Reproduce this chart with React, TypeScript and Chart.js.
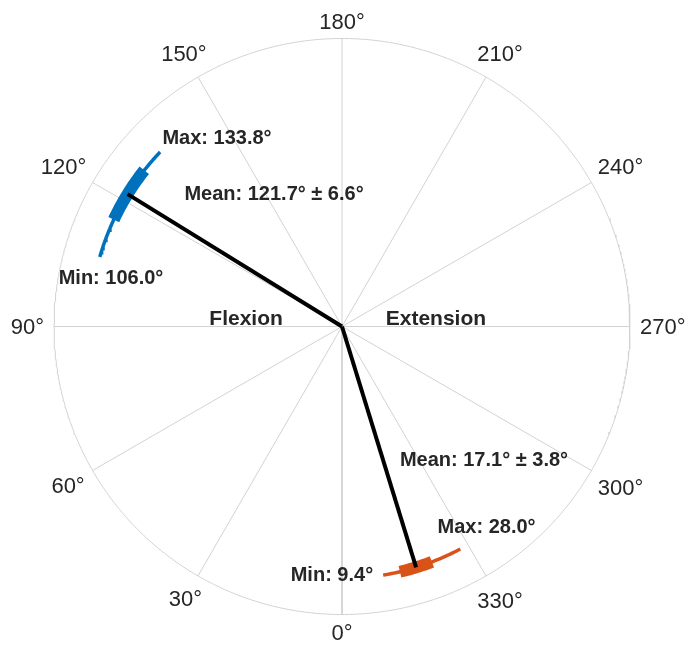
import React, { useEffect, useRef } from 'react';
import { Chart, registerables } from 'chart.js';

Chart.register(...registerables);

// ---- data ----
const categories = ['Flexion', 'Extension'];
const meanDeg = [121.7, 17.1];
const sdDeg = [6.6, 3.8];
const minDeg = [106.0, 9.4];
const maxDeg = [133.8, 28.0];
// flexion is plotted on the left half, extension mirrored onto the right half
const plotSign = [1, -1];
const markerRadius = [0.875, 0.875];
const outerRadius = 1;
const thetaTicks = [0, 30, 60, 90, 120, 150, 180, 210, 240, 270, 300, 330];
const thetaTickLabels = ['0°', '30°', '60°', '90°', '120°', '150°', '180°', '210°', '240°', '270°', '300°', '330°'];

// ---- styles / layout ----
const seriesColors = ['#0072BD', '#D95319'];
const gridColor = '#d2d2d2';
const textColor = '#262626';
const W = 686;
const H = 649;
const CENTER_PX = [342, 326.5];
const PX_PER_UNIT = 288;
const labelPos: Record<string, number[][]> = {
  max: [[-0.434, 0.658], [0.502, -0.691]],
  mean: [[-0.236, 0.464], [0.493, -0.46]],
  min: [[-0.802, 0.174], [-0.035, -0.859]],
  name: [[-0.333, 0.031], [0.326, 0.031]],
};

function toXY(thetaDeg: number, r: number) {
  const t = (thetaDeg * Math.PI) / 180;
  return { x: -r * Math.sin(t), y: -r * Math.cos(t) };
}

function arcPoints(a0: number, a1: number, r: number) {
  const pts: { x: number; y: number }[] = [];
  const lo = Math.min(a0, a1);
  const hi = Math.max(a0, a1);
  const n = Math.max(2, Math.ceil((hi - lo) / 0.5));
  for (let i = 0; i <= n; i++) pts.push(toXY(lo + ((hi - lo) * i) / n, r));
  return pts;
}

const lineDs = (label: string, data: any[], color: string, width: number, extra: any = {}) => ({
  label,
  data,
  showLine: true,
  borderColor: color,
  backgroundColor: color,
  borderWidth: width,
  pointRadius: 0,
  pointHoverRadius: 0,
  fill: false,
  tension: 0,
  clip: false,
  ...extra,
});

export default function App() {
  const ref = useRef<HTMLCanvasElement | null>(null);

  useEffect(() => {
    document.body.style.margin = '0';
    const canvas = ref.current;
    if (!canvas) return;

    const datasets: any[] = [];
    // mean lines (top)
    categories.forEach((c, i) => {
      const th = plotSign[i] * meanDeg[i];
      datasets.push(
        lineDs(c + ' mean', [{ x: 0, y: 0 }, toXY(th, markerRadius[i])], '#000000', 4, {
          borderJoinStyle: 'round',
        })
      );
    });
    // mean ± sd boxes
    categories.forEach((c, i) => {
      const s = plotSign[i];
      datasets.push(
        lineDs(c + ' sd', arcPoints(s * (meanDeg[i] - sdDeg[i]), s * (meanDeg[i] + sdDeg[i]), markerRadius[i]), seriesColors[i], 12)
      );
    });
    // min–max range arcs
    categories.forEach((c, i) => {
      const s = plotSign[i];
      datasets.push(lineDs(c + ' range', arcPoints(s * minDeg[i], s * maxDeg[i], markerRadius[i]), seriesColors[i], 3.5));
    });
    // outer circle
    datasets.push(lineDs('circle', arcPoints(0, 360, outerRadius), gridColor, 1));
    // spokes
    thetaTicks.forEach((t) => {
      datasets.push(lineDs('spoke ' + t, [{ x: 0, y: 0 }, toXY(t, outerRadius)], gridColor, 1));
    });

    const textPlugin = {
      id: 'polarText',
      afterDatasetsDraw(chart: any) {
        const ctx = chart.ctx;
        const xs = chart.scales.x;
        const ys = chart.scales.y;
        const cx = xs.getPixelForValue(0);
        const cy = ys.getPixelForValue(0);
        const rpx = xs.getPixelForValue(outerRadius) - cx;
        ctx.save();
        ctx.fillStyle = textColor;
        ctx.textAlign = 'center';
        ctx.textBaseline = 'alphabetic';
        const fs = 22;
        ctx.font = `${fs}px "Liberation Sans", Arial, sans-serif`;
        const capH = fs * 0.716;
        const gap = 10;
        thetaTicks.forEach((t, k) => {
          const label = thetaTickLabels[k];
          const w = ctx.measureText(label).width;
          const rad = (t * Math.PI) / 180;
          const ux = -Math.sin(rad);
          const uy = Math.cos(rad);
          const d = rpx + gap + Math.abs((w / 2) * ux) + Math.abs((capH / 2) * uy);
          ctx.fillText(label, cx + d * ux, cy + d * uy + capH / 2);
        });

        const put = (txt: string, p: number[], size: number) => {
          ctx.font = `bold ${size}px "Liberation Sans", Arial, sans-serif`;
          ctx.fillText(txt, xs.getPixelForValue(p[0]), ys.getPixelForValue(p[1]) + (size * 0.716) / 2);
        };
        categories.forEach((c, i) => {
          put(`Max: ${maxDeg[i].toFixed(1)}°`, labelPos.max[i], 20);
          put(`Mean: ${meanDeg[i].toFixed(1)}° ± ${sdDeg[i].toFixed(1)}°`, labelPos.mean[i], 20);
          put(`Min: ${minDeg[i].toFixed(1)}°`, labelPos.min[i], 20);
          put(c, labelPos.name[i], 21);
        });
        ctx.restore();
      },
    };

    const chart = new Chart(canvas, {
      type: 'scatter',
      data: { datasets },
      options: {
        responsive: false,
        maintainAspectRatio: false,
        animation: false,
        events: [],
        layout: { padding: 0 },
        plugins: { legend: { display: false }, tooltip: { enabled: false } },
        scales: {
          x: {
            type: 'linear',
            display: false,
            bounds: 'data',
            min: -CENTER_PX[0] / PX_PER_UNIT,
            max: (W - CENTER_PX[0]) / PX_PER_UNIT,
          },
          y: {
            type: 'linear',
            display: false,
            bounds: 'data',
            min: -(H - CENTER_PX[1]) / PX_PER_UNIT,
            max: CENTER_PX[1] / PX_PER_UNIT,
          },
        },
      },
      plugins: [textPlugin],
    } as any);

    return () => chart.destroy();
  }, []);

  return (
    <div style={{ width: W, height: H, background: '#ffffff' }}>
      <canvas ref={ref} width={W} height={H} style={{ display: 'block', width: W, height: H }} />
    </div>
  );
}
